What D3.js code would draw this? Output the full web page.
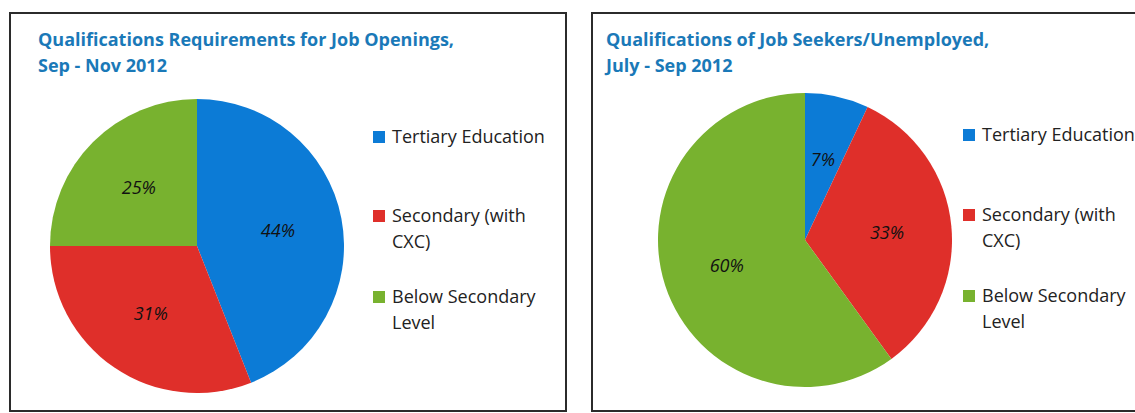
<!DOCTYPE html>
<html lang="en">
<head>
    <meta charset="UTF-8">
    <title>Qualifications</title>
    <style>
        body { margin: 0; background: #fff; }
        text { font-family: "Open Sans", "Noto Sans", sans-serif; }
    </style>
</head>
<body>
    <div class="container"></div>
    <script src="https://cdn.jsdelivr.net/npm/d3@7/dist/d3.min.js"></script>
    <script>
        // data
        const categories = ["Tertiary Education", "Secondary (with CXC)", "Below Secondary Level"]
        const legendLines = [["Tertiary Education"], ["Secondary (with", "CXC)"], ["Below Secondary", "Level"]]
        const jobOpenings = [44, 31, 25]
        const jobSeekers = [7, 33, 60]
        const titleOpenings = ["Qualifications Requirements for Job Openings,", "Sep - Nov 2012"]
        const titleSeekers = ["Qualifications of Job Seekers/Unemployed,", "July - Sep 2012"]

        const width = 1135
        const height = 413
        const colors = d3.scaleOrdinal()
            .domain(categories)
            .range(["#0c7bd6", "#df2f2a", "#78b22f"])

        const svg = d3.select(".container").append("svg")
            .attr("width", width)
            .attr("height", height)

        function drawPanel(x, w, titleX, title, values, cx, cy, legendX, legendYs) {
            const panel = svg.append("g").attr("transform", `translate(${x},0)`)

            panel.append("rect")
                .attr("x", 0).attr("y", 13)
                .attr("width", w).attr("height", 398)
                .attr("fill", "#fff")
                .attr("stroke", "#2b2b2b")
                .attr("stroke-width", 2)

            panel.append("g").selectAll("text")
                .data(title)
                .join("text")
                .attr("x", titleX)
                .attr("y", (d, i) => 46 + i * 26)
                .attr("fill", "#1a79b8")
                .attr("font-weight", "bold")
                .attr("font-size", 18)
                .text(d => d)

            const radius = 147
            const pie = d3.pie().sort(null).value(d => d.value)
            const arc = d3.arc().innerRadius(0).outerRadius(radius)
            const labelArc = d3.arc().innerRadius(radius * 0.56).outerRadius(radius * 0.56)

            const rows = categories.map((c, i) => ({ name: c, value: values[i] }))
            const arcs = pie(rows)

            const pieG = panel.append("g").attr("transform", `translate(${cx - x},${cy})`)
            pieG.selectAll("path")
                .data(arcs)
                .join("path")
                .attr("d", arc)
                .attr("fill", d => colors(d.data.name))

            pieG.selectAll("text")
                .data(arcs)
                .join("text")
                .attr("transform", d => `translate(${labelArc.centroid(d)})`)
                .attr("text-anchor", "middle")
                .attr("dy", "0.35em")
                .attr("font-style", "italic")
                .attr("font-size", 18)
                .attr("fill", "#111")
                .text(d => d.data.value + "%")

            const legend = panel.append("g")
            categories.forEach((c, i) => {
                const g = legend.append("g").attr("transform", `translate(${legendX - x},${legendYs[i]})`)
                g.append("rect")
                    .attr("x", 0).attr("y", -12)
                    .attr("width", 12).attr("height", 12)
                    .attr("fill", colors(c))
                g.selectAll("text")
                    .data(legendLines[i])
                    .join("text")
                    .attr("x", 19)
                    .attr("y", (d, j) => j * 26)
                    .attr("font-size", 18)
                    .attr("fill", "#222")
                    .text(d => d)
            })
        }

        drawPanel(10, 556, 28, titleOpenings, jobOpenings, 197, 246, 373, [143, 222, 303])
        drawPanel(592, 560, 14, titleSeekers, jobSeekers, 805, 240, 963, [141, 221, 302])
    </script>
</body>
</html>
